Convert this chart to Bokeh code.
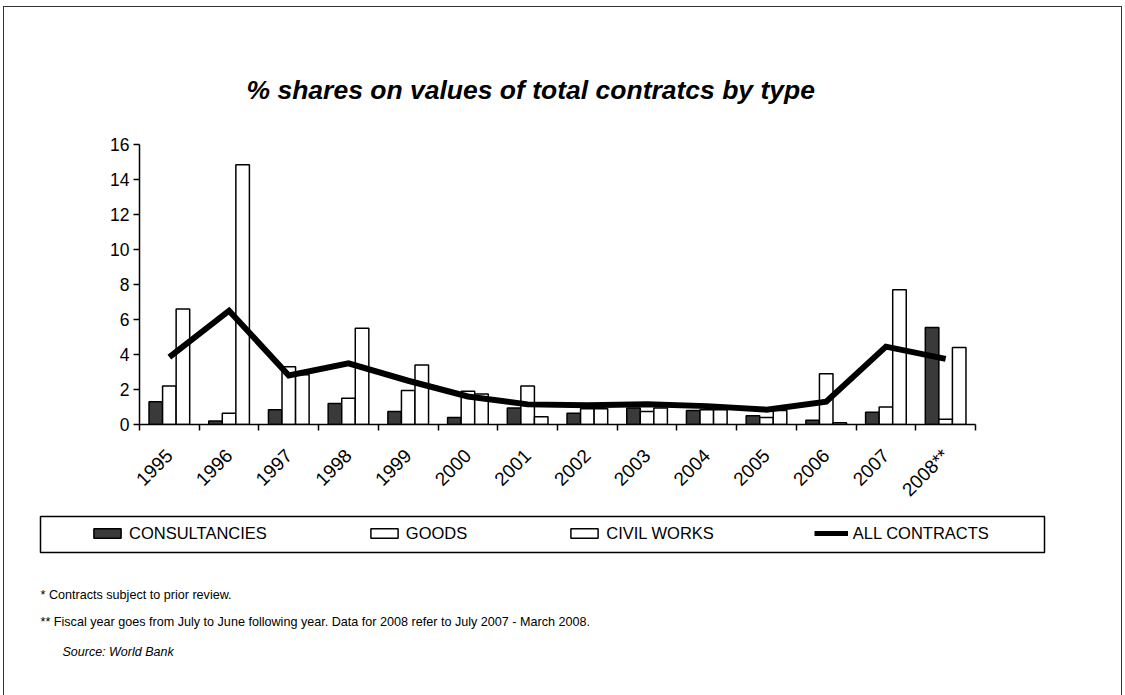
import numpy as np
from bokeh.plotting import figure
from bokeh.layouts import column
from bokeh.models import (Range1d, FixedTicker, ColumnDataSource, Legend, LegendItem,
                          Label, BoxAnnotation, Title)
from bokeh.transform import dodge
from bokeh.embed import file_html
from bokeh.resources import INLINE

# ---------------- data ----------------
years = ["1995", "1996", "1997", "1998", "1999", "2000", "2001", "2002",
         "2003", "2004", "2005", "2006", "2007", "2008**"]
consultancies = [1.3, 0.2, 0.85, 1.2, 0.75, 0.4, 0.95, 0.65, 0.95, 0.8, 0.5, 0.25, 0.7, 5.55]
goods = [2.2, 0.65, 3.3, 1.5, 1.95, 1.9, 2.2, 0.9, 0.75, 0.85, 0.4, 2.9, 1.0, 0.3]
civil_works = [6.6, 14.85, 2.85, 5.5, 3.4, 1.75, 0.45, 0.9, 0.95, 0.85, 0.8, 0.1, 7.7, 4.4]
all_contracts = [3.85, 6.5, 2.8, 3.5, 2.5, 1.6, 1.15, 1.1, 1.15, 1.05, 0.85, 1.3, 4.45, 3.75]
y_ticks = [0, 2, 4, 6, 8, 10, 12, 14, 16]

title_text = "% shares on values of total contratcs by type"
legend_labels = ["CONSULTANCIES", "GOODS", "CIVIL WORKS", "ALL CONTRACTS"]
note1 = "* Contracts subject to prior review."
note2 = "** Fiscal year goes from July to June following year. Data for 2008 refer to July 2007 - March 2008."
source_text = "Source: World Bank"

# ---------------- layout constants ----------------
FONT = "Liberation Sans"
OX, OY = 4, 7                 # page position of the canvas origin
W = 1117
HA, HB = 503, 185
FL, FR, FT, FB = 135, 971, 137, 418   # chart frame edges (canvas px)
BW = 0.227
CONS_FILL = "#3a3a3a"

xc = np.arange(len(years)) + 0.5
src = ColumnDataSource(dict(x=xc, cons=consultancies, goods=goods,
                            civil=civil_works, allc=all_contracts))

# ---------------- chart ----------------
p = figure(width=W, height=HA, x_range=Range1d(0, len(years)), y_range=Range1d(0, 16),
           output_backend="svg", toolbar_location=None,
           min_border_left=FL, min_border_right=W - FR,
           min_border_top=FT, min_border_bottom=HA - FB)
p.frame_align = False
p.grid.visible = False
p.outline_line_color = None
p.background_fill_color = "white"
p.border_fill_color = "white"

p.title = Title(text=title_text, align="left", offset=107, standoff=79,
                text_font=FONT, text_font_size="26.5px", text_font_style="bold italic",
                text_color="black")

p.vbar(x=dodge("x", -BW, range=p.x_range), top="cons", width=BW, source=src,
       fill_color=CONS_FILL, line_color="black", line_width=1.5)
p.vbar(x="x", top="goods", width=BW, source=src,
       fill_color="white", line_color="black", line_width=1.5)
p.vbar(x=dodge("x", BW, range=p.x_range), top="civil", width=BW, source=src,
       fill_color="white", line_color="black", line_width=1.5)
p.line(x="x", y="allc", source=src, line_color="black", line_width=6,
       line_join="miter", line_cap="butt")

xa = p.xaxis[0]
xa.ticker = FixedTicker(ticks=list(xc), minor_ticks=list(range(len(years) + 1)))
xa.major_label_overrides = {float(v): y for v, y in zip(xc, years)}
xa.major_label_orientation = np.pi / 4
xa.major_tick_out = 0
xa.major_tick_in = 0
xa.minor_tick_out = 6
xa.minor_tick_in = 0
xa.minor_tick_line_color = "black"
xa.minor_tick_line_width = 1.5
xa.axis_line_color = "black"
xa.axis_line_width = 1.5
xa.major_label_standoff = 22
xa.major_label_text_font = FONT
xa.major_label_text_font_size = "19px"
xa.major_label_text_color = "black"

ya = p.yaxis[0]
ya.ticker = FixedTicker(ticks=y_ticks, minor_ticks=[])
ya.major_tick_out = 6
ya.major_tick_in = 0
ya.major_tick_line_color = "black"
ya.major_tick_line_width = 1.5
ya.axis_line_color = "black"
ya.axis_line_width = 1.5
ya.major_label_standoff = 4
ya.major_label_text_font = FONT
ya.major_label_text_font_size = "17.5px"
ya.major_label_text_color = "black"

# ---------------- legend + notes ----------------
q = figure(width=W, height=HB, x_range=Range1d(0, W), y_range=Range1d(0, HB),
           output_backend="svg", toolbar_location=None, min_border=0,
           x_axis_location=None, y_axis_location=None)
q.frame_align = False
q.grid.visible = False
q.outline_line_color = None
q.background_fill_color = "white"
q.border_fill_color = "white"

# legend keys: hidden copies of the series, so that the legend shows their styles
k_cons = q.vbar(x="x", top="cons", width=BW, source=src, visible=False,
                fill_color=CONS_FILL, line_color="black", line_width=1.5)
k_goods = q.vbar(x="x", top="goods", width=BW, source=src, visible=False,
                 fill_color="white", line_color="black", line_width=1.5)
k_civil = q.vbar(x="x", top="civil", width=BW, source=src, visible=False,
                 fill_color="white", line_color="black", line_width=1.5)
k_all = q.line(x="x", y="allc", source=src, visible=False,
               line_color="black", line_width=5)

def qx(page_x):
    return page_x - OX

def qy(page_y):
    return HA + HB + OY - page_y

q.add_layout(BoxAnnotation(left=qx(40), right=qx(1044), top=qy(516), bottom=qy(552),
                           left_units="screen", right_units="screen",
                           top_units="screen", bottom_units="screen",
                           fill_alpha=0, line_color="black", line_alpha=1.0, line_width=1.5))

legend = Legend(items=[LegendItem(label=legend_labels[0], renderers=[k_cons]),
                       LegendItem(label=legend_labels[1], renderers=[k_goods]),
                       LegendItem(label=legend_labels[2], renderers=[k_civil]),
                       LegendItem(label=legend_labels[3], renderers=[k_all])],
                orientation="horizontal", location=(qx(90), qy(543)),
                spacing=100, glyph_width=34, glyph_height=12, label_standoff=5,
                label_height=20, padding=0, margin=0,
                inactive_fill_alpha=0,
                border_line_alpha=0, background_fill_alpha=0,
                label_text_font=FONT, label_text_font_size="16.5px", label_text_color="black")
q.add_layout(legend)

for txt, x, y, size, style in [(note1, 40, 594, "12.6px", "normal"),
                               (note2, 40, 621, "12.6px", "normal"),
                               (source_text, 62, 651, "12.5px", "italic")]:
    q.add_layout(Label(x=qx(x), y=qy(y), x_units="screen", y_units="screen",
                       text=txt, text_align="left", text_baseline="alphabetic",
                       text_font=FONT, text_font_size=size, text_font_style=style,
                       text_color="black"))

page = column(p, q, spacing=0, margin=(6, 0, 0, 3),
              styles={"border-top": "1px solid #333333",
                      "border-left": "1px solid #333333",
                      "border-right": "1px solid #333333"})
open("out.html", "w").write(file_html(page, INLINE))
